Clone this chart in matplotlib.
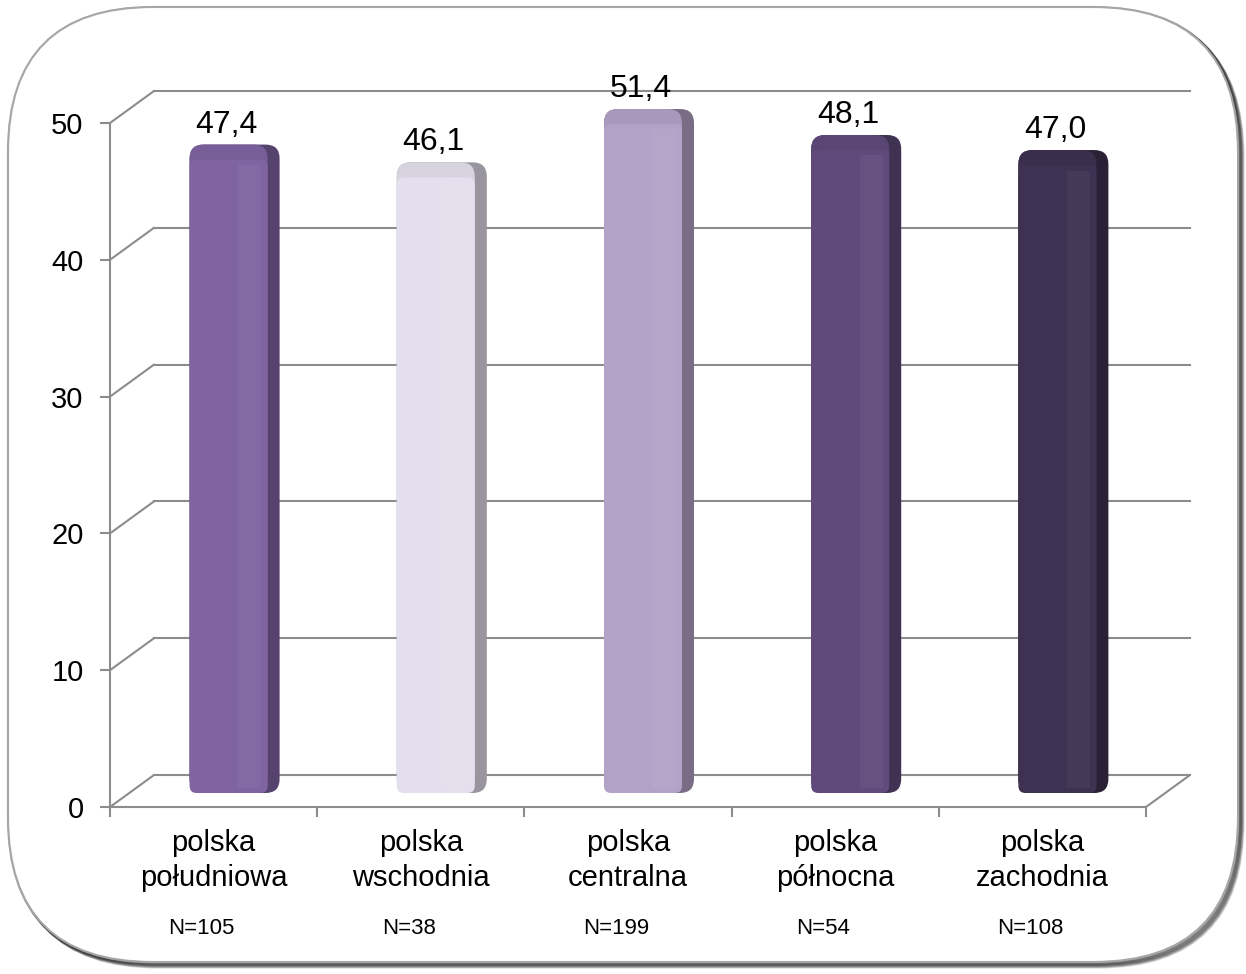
import matplotlib
matplotlib.use("Agg")
import matplotlib.pyplot as plt
import matplotlib.transforms as mtransforms
from matplotlib.patches import FancyBboxPatch, ConnectionPatch
from matplotlib.colors import to_rgb

# Data
regions = ["polska\npołudniowa", "polska\nwschodnia", "polska\ncentralna",
           "polska\npółnocna", "polska\nzachodnia"]
values = [47.4, 46.1, 51.4, 48.1, 47.0]
counts = ["N=105", "N=38", "N=199", "N=54", "N=108"]
bar_colors = ["#8064A2", "#E4DFEC", "#B3A2C7", "#604A7B", "#3F3151"]
y_ticks = [0, 10, 20, 30, 40, 50]

plt.rcParams['font.family'] = ['Liberation Sans', 'DejaVu Sans']

W, H = 1246, 974
fig = plt.figure(figsize=(W / 100, H / 100), dpi=100)

# Rounded frame in the background
bg = fig.add_axes([0, 0, 1, 1], zorder=0)
bg.set_xlim(0, W)
bg.set_ylim(0, H)
bg.axis('off')
frame_style = "round,pad=0,rounding_size=145"
for k in range(8, 0, -1):
    bg.add_patch(FancyBboxPatch((8 + k * 0.6, 12 - k * 0.6), 1230, 955, boxstyle=frame_style,
                                fc='none', ec=(0, 0, 0, 0.16), lw=2.5))
bg.add_patch(FancyBboxPatch((8, 12), 1230, 955, boxstyle=frame_style,
                            fc='white', ec='#A6A6A6', lw=1.5))

# Plot area (front plane of the 3D box)
ax_x0, ax_x1, ax_y0, ax_y1 = 110, 1146, 807, 123
ax = fig.add_axes([ax_x0 / W, (H - ax_y0) / H, (ax_x1 - ax_x0) / W, (ax_y0 - ax_y1) / H], zorder=1)
ax.patch.set_alpha(0)
n = len(values)
ax.set_xlim(-0.5, n - 0.5)
ax.set_ylim(0, 50)
ymax = ax.get_ylim()[1]

grid_c = '#8C8C8C'
for side in ['top', 'right']:
    ax.spines[side].set_visible(False)
for side in ['left', 'bottom']:
    ax.spines[side].set_color(grid_c)
    ax.spines[side].set_linewidth(1.5)

ax.set_yticks(y_ticks)
ax.tick_params(axis='y', length=7, width=1.5, color=grid_c, labelsize=21, pad=12)
ax.set_xticks(range(n))
ax.set_xticklabels(regions, fontsize=21, linespacing=1.3)
ax.set_xticks([i - 0.5 for i in range(n + 1)], minor=True)
ax.tick_params(axis='x', which='major', length=0, pad=16)
ax.tick_params(axis='x', which='minor', length=7, width=1.5, color=grid_c)

# back wall and floor
back = ax.transData + mtransforms.ScaledTranslation(44 / 100, 32 / 100, fig.dpi_scale_trans)
for t in y_ticks:
    ax.plot([-0.5, n - 0.5], [t, t], color=grid_c, lw=1.5, transform=back, clip_on=False, zorder=0)
    ax.add_artist(ConnectionPatch(xyA=(-0.5, t), coordsA=ax.transData, xyB=(-0.5, t), coordsB=back,
                                  color=grid_c, lw=1.5, zorder=0))
ax.add_artist(ConnectionPatch(xyA=(n - 0.5, 0), coordsA=ax.transData, xyB=(n - 0.5, 0), coordsB=back,
                              color=grid_c, lw=1.5, zorder=0))

# Bars with a simple 3D look
btrans = ax.transData + mtransforms.ScaledTranslation(21 / 100, 14 / 100, fig.dpi_scale_trans)
px_x = (ax_x1 - ax_x0) / n          # pixels per x unit
px_y = (ax_y0 - ax_y1) / ymax       # pixels per y unit
asp = (1 / px_y) / (1 / px_x)
bw = 90 / px_x
side_w = 12 / px_x
cap_h = 15 / px_y
r = 14 / px_x


def mix(c1, c2, t):
    a, b = to_rgb(c1), to_rgb(c2)
    return tuple(a[i] * (1 - t) + b[i] * t for i in range(3))


def rbox(x, y, w, h, color, rs=r, z=2, alpha=1.0):
    p = FancyBboxPatch((x, y), w, h, boxstyle=f"round,pad=0,rounding_size={rs}",
                       mutation_aspect=asp, fc=color, ec='none', alpha=alpha,
                       transform=btrans, clip_on=False, zorder=z)
    ax.add_patch(p)


for i, v in enumerate(values):
    h = min(v, ymax)
    c = bar_colors[i]
    x0 = i - bw / 2
    dark = mix(c, 'black', 0.33)
    capc = mix(c, 'black', 0.06)
    rbox(x0, 0, bw, h, dark, z=2)
    rbox(x0, 0, bw - side_w, h, capc, z=3)
    rbox(x0, 0, bw - side_w, h - cap_h, c, rs=r * 0.5, z=4)
    # soft light band on the face
    ax.add_patch(plt.Rectangle((x0 + (bw - side_w) * 0.62, 0.4), (bw - side_w) * 0.3, h - cap_h - 0.8,
                               fc='white', ec='none', alpha=0.04, transform=btrans,
                               clip_on=False, zorder=5))
    label = f"{v:.1f}".replace('.', ',')
    ax.annotate(label, xy=(i, h), xycoords=btrans, xytext=(-8, 12), textcoords='offset pixels',
                ha='center', va='baseline', fontsize=23, annotation_clip=False, zorder=6)

# sample sizes under the category names
ntrans = mtransforms.blended_transform_factory(ax.transData, ax.transAxes) + \
    mtransforms.ScaledTranslation(-12 / 100, 0, fig.dpi_scale_trans)
for i, lab in enumerate(counts):
    ax.text(i, -0.177, lab, transform=ntrans, ha='center', va='center', fontsize=16)

fig.savefig("out.png", dpi=100)
